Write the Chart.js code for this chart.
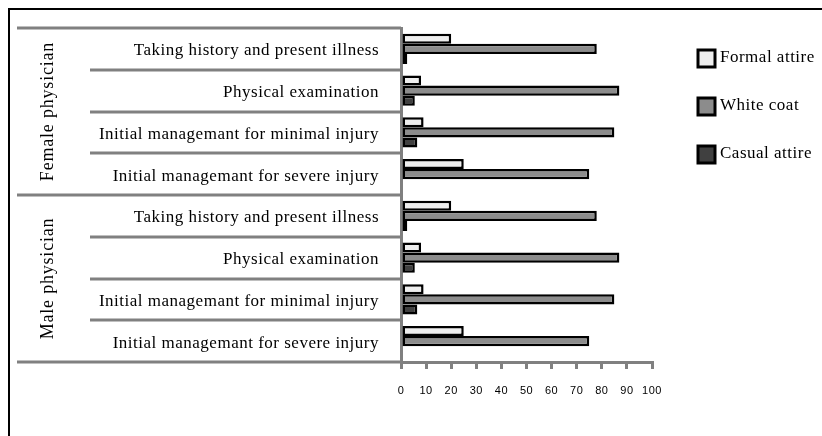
<!DOCTYPE html>
<html>
<head>
<meta charset="utf-8">
<script src="https://cdn.jsdelivr.net/npm/chart.js@4"></script>
<style>
  body { margin: 0; background: #fff; }
  #wrap { position: relative; width: 822px; height: 436px; }
  #frame { position: absolute; left: 8px; top: 8px; right: 0; bottom: 0; border-top: 2px solid #000; border-left: 2px solid #000; }
  #attire-chart { position: absolute; left: 0; top: 0; }
</style>
</head>
<body>
<div id="wrap">
  <div id="frame"></div>
  <canvas id="attire-chart" width="822" height="436"></canvas>
</div>
<script>
"use strict";

Chart.defaults.font.family = "'Liberation Serif', serif";
Chart.defaults.color = "#000";

// data
var groups = ["Female physician", "Male physician"];
var tasks = [
  "Taking history and present illness",
  "Physical examination",
  "Initial managemant for minimal injury",
  "Initial managemant for severe injury",
];
var seriesNames = ["Formal attire", "White coat", "Casual attire"];
var formalVals = [20, 8, 9, 25, 20, 8, 9, 25];
var whiteVals = [78, 87, 85, 75, 78, 87, 85, 75];
var casualVals = [2.5, 5.5, 6.5, 0, 2.5, 5.5, 6.5, 0];
var xTicks = [0, 10, 20, 30, 40, 50, 60, 70, 80, 90, 100];

var colors = ["#eeeeee", "#8c8c8c", "#404040"];
var lineGray = "#808080";

var labels = [];
groups.forEach(function () {
  tasks.forEach(function (t) {
    labels.push(t);
  });
});

// the scanned original has wide letter spacing on the serif text,
// but not on the numbers (x axis is drawn after the datasets, z: 1)
var spacingPlugin = {
  id: "spacing",
  beforeDraw: function (chart) {
    chart.ctx.letterSpacing = "0.5px";
  },
  afterDatasetsDraw: function (chart) {
    chart.ctx.letterSpacing = "0px";
  },
};

// frame lines, group labels and legend
var framePlugin = {
  id: "frame",
  afterDraw: function (chart) {
    var ctx = chart.ctx;
    var area = chart.chartArea;
    var rows = labels.length;
    var rowH = (area.bottom - area.top) / rows;
    var perGroup = tasks.length;

    ctx.save();
    ctx.strokeStyle = lineGray;
    ctx.lineWidth = 3;
    for (var i = 0; i <= rows; i++) {
      var y = Math.round(area.top + i * rowH);
      var x0 = i % perGroup === 0 ? 17 : 90;
      ctx.beginPath();
      ctx.moveTo(x0, y);
      ctx.lineTo(area.left, y);
      ctx.stroke();
    }

    // group labels, rotated
    ctx.fillStyle = "#000";
    ctx.font = "18px 'Liberation Serif', serif";
    ctx.letterSpacing = "0.8px";
    ctx.textAlign = "center";
    ctx.textBaseline = "middle";
    groups.forEach(function (g, gi) {
      var cy = area.top + (gi + 0.5) * perGroup * rowH;
      ctx.save();
      ctx.translate(48, cy);
      ctx.rotate(-Math.PI / 2);
      ctx.fillText(g, 0, 0);
      ctx.restore();
    });

    // legend
    ctx.font = "17px 'Liberation Serif', serif";
    ctx.letterSpacing = "0.5px";
    ctx.textAlign = "left";
    seriesNames.forEach(function (name, si) {
      var cy = 58 + si * 48;
      ctx.fillStyle = colors[si];
      ctx.fillRect(698, cy - 8, 17, 17);
      ctx.strokeStyle = "#000";
      ctx.lineWidth = 3;
      ctx.strokeRect(698, cy - 8, 17, 17);
      ctx.fillStyle = "#000";
      ctx.fillText(name, 720, cy);
    });
    ctx.restore();
  },
};

var ctx1 = document.getElementById("attire-chart").getContext("2d");

var attireChart = new Chart(ctx1, {
  type: "bar",
  data: {
    labels: labels,
    datasets: [
      { label: seriesNames[0], data: formalVals, backgroundColor: colors[0] },
      { label: seriesNames[1], data: whiteVals, backgroundColor: colors[1] },
      { label: seriesNames[2], data: casualVals, backgroundColor: colors[2] },
    ].map(function (d) {
      d.borderColor = "#000";
      d.borderWidth = 2.5;
      d.borderSkipped = false;
      d.categoryPercentage = 0.72;
      d.barPercentage = 1;
      return d;
    }),
  },
  options: {
    indexAxis: "y",
    responsive: false,
    animation: false,
    layout: {
      padding: { top: 28, right: 170, left: 0, bottom: 0 },
    },
    plugins: {
      legend: { display: false },
      tooltip: { enabled: false },
    },
    scales: {
      x: {
        z: 1,
        min: 0,
        max: 100,
        afterBuildTicks: function (scale) {
          scale.ticks = xTicks.map(function (v) {
            return { value: v };
          });
        },
        afterFit: function (scale) {
          scale.height = 74;
        },
        border: {
          display: true,
          color: lineGray,
          width: 3,
        },
        grid: {
          drawOnChartArea: false,
          color: lineGray,
          lineWidth: 3,
          tickLength: 7,
        },
        ticks: {
          padding: 15,
          font: { family: "'Liberation Sans', sans-serif", size: 11 },
        },
      },
      y: {
        afterFit: function (scale) {
          scale.width = 401;
        },
        border: {
          display: true,
          color: lineGray,
          width: 3,
        },
        grid: {
          display: false,
        },
        ticks: {
          padding: 14,
          labelOffset: 2,
          font: { size: 17 },
        },
      },
    },
  },
  plugins: [spacingPlugin, framePlugin],
});
</script>
</body>
</html>
